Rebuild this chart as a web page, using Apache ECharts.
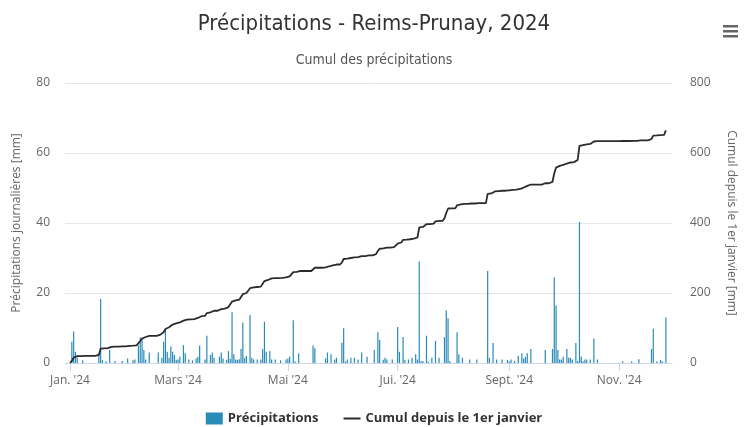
<!DOCTYPE html>
<html><head><meta charset="utf-8">
<script src="https://cdn.jsdelivr.net/npm/echarts@6/dist/echarts.min.js"></script>
<style>html,body{margin:0;padding:0;background:#fff}#c{width:748px;height:427px}</style>
</head><body><div id="c"></div>
<script>
// Daily precipitation (mm), one array per month of 2024
const jan = [0,6.1,9.0,3.2,1.5,0,0,0.8,0,0, 0,0,0,0,0,0,2.3,18.3,0.8,0, 0.5,0,3.7,0,0,0.6,0,0,0,0.6, 0];
const feb = [0,1.3,0,0,0.8,1.0,0,5.0,7.3,6.8, 3.7,1.0,0,3.0,0,0,0,0,3.0,0, 1.5,6.1,9.4,3.2,1.5,4.7,3.2,2.3,0.9];
const mar = [1.0,1.8,0,5.1,2.8,0,1.0,0,0.8,0, 1.3,1.8,5.0,0,0,1.0,7.8,0,2.3,3.0, 1.5,0,0,1.8,3.0,1.3,0,0.9,3.4,1.2, 14.5];
const apr = [2.5,1.0,0.9,1.1,4.0,11.6,1.5,2.0,0,13.7, 1.5,1.0,0,1.0,0,1.0,4.0,11.8,3.2,0, 3.4,1.0,0,1.0,0,0,0.8,0,0,1.0];
const may = [1.3,1.8,0,12.2,0.4,0,2.8,0,0,0, 0,0,0,0,5.0,4.2,0,0,0,0, 0,1.3,3.0,0,2.5,0,1.0,1.5,0,0, 5.8];
const jun = [9.9,0.4,1.0,0,1.5,0,1.5,0,1.0,0, 3.0,0,0,1.8,0,0,0,3.7,0,8.8, 6.6,0,0.9,1.5,1.0,0,0,1.0,0,0];
const jul = [10.3,3.2,0,7.4,0.9,0,1.0,0,1.5,0, 2.5,1.0,29.0,0.5,0.6,0,7.8,0.4,0,1.5, 0,6.3,0,1.5,0,0,7.4,15.0,12.8,0.5, 0];
const aug = [0,0,8.8,2.5,0,1.5,0,0,0,1.0, 0,0,0,1.0,0,0,0,0,0,26.3, 1.5,0,5.7,0,1.0,0,0,1.0,0,0, 0.9];
const sep = [0.4,1.0,0,0.6,0,2.1,0,2.8,1.3,1.8, 2.8,0,4.0,0,0,0,0,0,0,0, 3.7,0,0,0,4.0,24.4,16.4,3.7,1.0,1.0];
const oct = [1.8,0,4.0,1.5,1.5,1.0,0,5.7,0.6,40.3, 1.8,0.5,1.0,1.0,0,1.0,0,7.0,0,1.0, 0,0,0,0,0,0,0,0,0,0, 0];
const nov = [0,0,0.5,0,0,0,0,0.5,0,0, 0,1.1,0,0,0,0,0,0,4.0,9.8, 0,0.5,0,0.9,0.5,0,13.0];

const tickMonths = [0, 2, 4, 6, 8, 10];
const tickLabels = ["Jan. '24", "Mars '24", "Mai '24", "Jui. '24", "Sept. '24", "Nov. '24"];

const months = [jan, feb, mar, apr, may, jun, jul, aug, sep, oct, nov];
const DAY = 86400000;
const daily = [];
months.forEach((arr, m) => arr.forEach((v, i) => daily.push([Date.UTC(2024, m, i + 1), v])));
let run = 0;
const cumul = daily.map(([t, v]) => { run += v; return [t, Math.round(run * 10) / 10]; });
const tickTs = tickMonths.map(m => Date.UTC(2024, m, 1));

const font = "'DejaVu Sans Condensed', 'Liberation Sans Narrow', 'DejaVu Sans', sans-serif";
const sans = "'Open Sans', sans-serif";
const chart = echarts.init(document.getElementById('c'), null, {renderer: 'canvas'});
chart.setOption({
  animation: false,
  backgroundColor: '#fff',
  title: [
    {text: 'Précipitations - Reims-Prunay, 2024', left: 'center', top: 8,
     textStyle: {fontFamily: font, fontSize: 22, fontWeight: 'normal', color: '#333'}},
    {text: 'Cumul des précipitations', left: 'center', top: 48,
     textStyle: {fontFamily: font, fontSize: 14, fontWeight: 'normal', color: '#555'}}
  ],
  graphic: [
    {type: 'rect', left: 723, top: 25, shape: {width: 15, height: 2.5}, style: {fill: '#666'}},
    {type: 'rect', left: 723, top: 30, shape: {width: 15, height: 2.5}, style: {fill: '#666'}},
    {type: 'rect', left: 723, top: 35, shape: {width: 15, height: 2.5}, style: {fill: '#666'}}
  ],
  legend: {
    bottom: -3, left: 'center', itemWidth: 17, itemHeight: 12, itemGap: 24,
    textStyle: {fontFamily: sans, fontSize: 13, fontWeight: 'bold', color: '#333'},
    data: [{name: 'Précipitations', icon: 'rect'},
           {name: 'Cumul depuis le 1er janvier', itemStyle: {opacity: 0}}]
  },
  grid: {left: 65, right: 76, top: 83, bottom: 64},
  xAxis: {
    type: 'value',
    min: tickTs[0] - 2.8 * DAY,
    max: Date.UTC(2024, 10, 27) + 3.4 * DAY,
    axisLine: {show: true, onZero: false, lineStyle: {color: '#ccd6eb'}},
    axisTick: {show: true, customValues: tickTs, length: 8, lineStyle: {color: '#ccd6eb'}},
    axisLabel: {customValues: tickTs, margin: 12, color: '#666', fontSize: 12, fontFamily: sans,
      formatter: (v) => { const i = tickTs.indexOf(v); return i >= 0 ? tickLabels[i] : ''; }},
    splitLine: {show: false}
  },
  yAxis: [
    {type: 'value', min: 0, max: 80, interval: 20,
     name: 'Précipitations journalières [mm]', nameLocation: 'middle', nameGap: 42, nameRotate: 90,
     nameTextStyle: {color: '#666', fontSize: 12, fontFamily: sans},
     axisLabel: {color: '#666', fontSize: 12, margin: 15, fontFamily: sans},
     axisLine: {show: false}, axisTick: {show: false},
     splitLine: {lineStyle: {color: '#e6e6e6'}}},
    {type: 'value', min: 0, max: 800, interval: 200, position: 'right',
     name: 'Cumul depuis le 1er janvier [mm]', nameLocation: 'middle', nameGap: 53, nameRotate: -90,
     nameTextStyle: {color: '#666', fontSize: 12, fontFamily: sans},
     axisLabel: {color: '#666', fontSize: 12, margin: 18, fontFamily: sans},
     axisLine: {show: false}, axisTick: {show: false},
     splitLine: {show: false}}
  ],
  series: [
    {name: 'Précipitations', type: 'bar', data: daily, barWidth: 1.2,
     itemStyle: {color: '#2a8ab8'}, yAxisIndex: 0},
    {name: 'Cumul depuis le 1er janvier', type: 'line', data: cumul, yAxisIndex: 1,
     symbol: 'none', lineStyle: {color: '#2b2b2b', width: 1.8}, itemStyle: {color: '#2b2b2b'}}
  ]
});
</script></body></html>
